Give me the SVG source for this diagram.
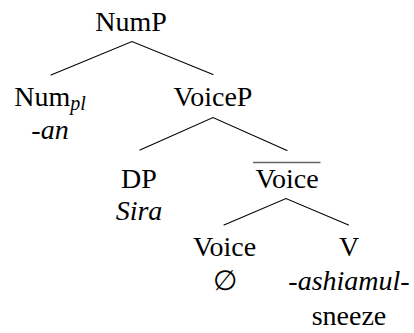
<svg xmlns="http://www.w3.org/2000/svg" width="414" height="333" viewBox="0 0 414 333">
  <style>
    text { font-family: "Liberation Serif", "Times New Roman", serif; font-size: 28px; fill: #000; text-anchor: middle; }
    .it { font-style: italic; }
    .sub { font-style: italic; font-size: 20px; }
    .edge { stroke: #000; stroke-width: 1.1; fill: none; stroke-linecap: round; }
    .bar { stroke: #666; stroke-width: 1.6; }
  </style>
  <rect width="414" height="333" fill="#fff"/>

  <!-- tree branches -->
  <g id="connectors">
    <path class="edge" d="M51 75 L132 41.5 L213 74.5"/>
    <path class="edge" d="M140 150 L213 117.5 L287 150.5"/>
    <path class="edge" d="M224 225 L286 198.5 L348.5 225"/>
  </g>

  <g id="NumP">
    <text x="131" y="31">NumP</text>
  </g>

  <g id="Num">
    <text x="50" y="106">Num<tspan class="sub" dy="4">pl</tspan></text>
    <text class="it" x="50" y="139">-an</text>
  </g>

  <g id="VoiceP">
    <text x="213" y="106">VoiceP</text>
  </g>

  <g id="DP">
    <text x="139" y="187.5">DP</text>
    <text class="it" x="139" y="219.5">Sira</text>
  </g>

  <!-- intermediate projection: Voice with a bar over it -->
  <g id="VoiceBar">
    <line class="bar" x1="253" y1="162.5" x2="320.5" y2="162.5"/>
    <text x="287" y="187.5">Voice</text>
  </g>

  <g id="Voice">
    <text x="224.5" y="256">Voice</text>
    <text x="224.5" y="289.5">∅</text>
  </g>

  <g id="V">
    <text x="349" y="256">V</text>
    <text class="it" x="349" y="290">-ashiamul-</text>
    <text x="349" y="324.5">sneeze</text>
  </g>
</svg>
